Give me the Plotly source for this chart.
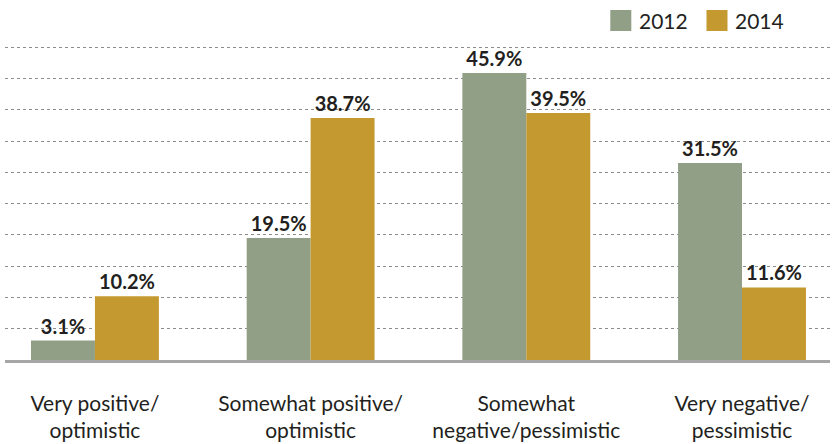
import plotly.graph_objects as go

categories = ["Very positive/<br>optimistic", "Somewhat positive/<br>optimistic",
              "Somewhat<br>negative/pessimistic", "Very negative/<br>pessimistic"]
years = ["2012", "2014"]
values_2012 = [3.1, 19.5, 45.9, 31.5]
values_2014 = [10.2, 38.7, 39.5, 11.6]
grid_ticks = [5, 10, 15, 20, 25, 30, 35, 40, 45, 50]

colors = {"2012": "#919f87", "2014": "#c4992f"}
text_color = "#231f20"
font_family = "Lato, 'Open Sans', sans-serif"

xpos = list(range(len(categories)))

fig = go.Figure()
for name, vals in zip(years, [values_2012, values_2014]):
    fig.add_trace(go.Bar(
        x=xpos, y=vals, name=name,
        marker=dict(color=colors[name], line=dict(width=0)),
        text=[f"{v:.1f}%" for v in vals],
        textposition="outside",
        textfont=dict(family=font_family, size=20, color=text_color, weight="bold"),
        constraintext="none",
        cliponaxis=False,
        showlegend=False,
    ))

fig.update_layout(
    width=835, height=444,
    margin=dict(l=5, r=5, t=46, b=84, autoexpand=False),
    paper_bgcolor="white", plot_bgcolor="white",
    barmode="group", bargap=0.407, bargroupgap=0,
    font=dict(family=font_family, color=text_color),
    xaxis=dict(
        range=[-0.417, 3.408],
        tickvals=xpos, ticktext=categories,
        tickfont=dict(size=21, color=text_color),
        showgrid=False, zeroline=False, automargin=False,
        showline=True, linecolor="#a6a6a6", linewidth=2.5,
        ticks="outside", ticklen=0, ticklabelstandoff=23,
    ),
    yaxis=dict(
        range=[0, 50.2], tickvals=grid_ticks, showticklabels=False,
        showgrid=True, gridcolor="#8c8c8c", gridwidth=1, griddash="dot",
        zeroline=False, showline=False, automargin=False,
    ),
)

# manual legend (swatches + labels) at top right
legend_items = [("2012", 0.7337), ("2014", 0.8503)]
for name, x0 in legend_items:
    fig.add_shape(type="rect", xref="paper", yref="paper",
                  x0=x0, x1=x0 + 21 / 825, y0=1 + (46 - 31) / 314, y1=1 + (46 - 10) / 314,
                  fillcolor=colors[name], line=dict(width=0))
    fig.add_annotation(xref="paper", yref="paper", x=x0 + 27 / 825, y=1 + (46 - 20.5) / 314,
                       text=name, showarrow=False, xanchor="left", yanchor="middle",
                       font=dict(family=font_family, size=21, color=text_color))

fig.write_html("out.html")
